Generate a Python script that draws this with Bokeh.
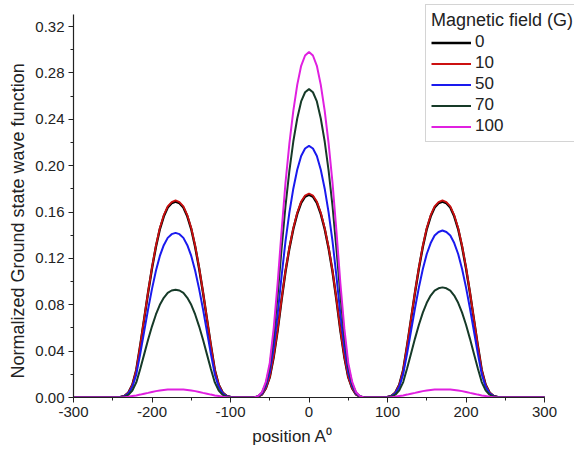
from bokeh.plotting import figure
from bokeh.models import Range1d, Legend, LegendItem, FixedTicker, NumeralTickFormatter, Title
from bokeh.embed import file_html
from bokeh.resources import INLINE

# positions (Angstrom)
positions = [-300,
             -245, -240, -235, -230, -225, -220, -215, -210, -205, -200, -195, -190, -185, -180, -175, -170,
             -165, -160, -155, -150, -145, -140, -135, -130, -125, -120, -115, -110, -105, -100, -95,
             -70, -65, -60, -55, -50, -45, -40, -35, -30, -25, -20, -15, -10, -5, 0,
             5, 10, 15, 20, 25, 30, 35, 40, 45, 50, 55, 60, 65, 70,
             95, 100, 105, 110, 115, 120, 125, 130, 135, 140, 145, 150, 155, 160, 165, 170,
             175, 180, 185, 190, 195, 200, 205, 210, 215, 220, 225, 230, 235, 240, 245,
             300]

field_labels = ["0", "10", "50", "70", "100"]

psi_0G = [0,
          0, 0.0005, 0.0014, 0.0042, 0.011, 0.0237, 0.0448, 0.0676, 0.0904, 0.1115, 0.1301, 0.1453, 0.1563, 0.1639, 0.1676, 0.169,
          0.1676, 0.1639, 0.1563, 0.1453, 0.1301, 0.1115, 0.0904, 0.0676, 0.0448, 0.0237, 0.011, 0.0042, 0.0014, 0.0005, 0,
          0, 0.0007, 0.0026, 0.0079, 0.0175, 0.035, 0.0578, 0.084, 0.1085, 0.1286, 0.1453, 0.1584, 0.168, 0.1733, 0.175,
          0.1733, 0.168, 0.1584, 0.1453, 0.1286, 0.1085, 0.084, 0.0578, 0.035, 0.0175, 0.0079, 0.0026, 0.0007, 0,
          0, 0.0005, 0.0014, 0.0042, 0.011, 0.0237, 0.0448, 0.0676, 0.0904, 0.1115, 0.1301, 0.1453, 0.1563, 0.1639, 0.1676, 0.169,
          0.1676, 0.1639, 0.1563, 0.1453, 0.1301, 0.1115, 0.0904, 0.0676, 0.0448, 0.0237, 0.011, 0.0042, 0.0014, 0.0005, 0,
          0]

psi_10G = [0,
           0, 0.0005, 0.0014, 0.0043, 0.0111, 0.0238, 0.0451, 0.068, 0.091, 0.1122, 0.1309, 0.1462, 0.1573, 0.1649, 0.1686, 0.170,
           0.1686, 0.1649, 0.1573, 0.1462, 0.1309, 0.1122, 0.091, 0.068, 0.0451, 0.0238, 0.0111, 0.0043, 0.0014, 0.0005, 0,
           0, 0.0007, 0.0026, 0.0079, 0.0176, 0.0352, 0.0581, 0.0845, 0.1091, 0.1294, 0.1461, 0.1593, 0.169, 0.1742, 0.176,
           0.1742, 0.169, 0.1593, 0.1461, 0.1294, 0.1091, 0.0845, 0.0581, 0.0352, 0.0176, 0.0079, 0.0026, 0.0007, 0,
           0, 0.0005, 0.0014, 0.0043, 0.0111, 0.0238, 0.0451, 0.068, 0.091, 0.1122, 0.1309, 0.1462, 0.1573, 0.1649, 0.1686, 0.170,
           0.1686, 0.1649, 0.1573, 0.1462, 0.1309, 0.1122, 0.091, 0.068, 0.0451, 0.0238, 0.0111, 0.0043, 0.0014, 0.0005, 0,
           0]

psi_50G = [0,
           0, 0.0004, 0.0011, 0.0036, 0.0092, 0.0199, 0.0376, 0.0568, 0.076, 0.0937, 0.1093, 0.1221, 0.1314, 0.1377, 0.1409, 0.142,
           0.1409, 0.1377, 0.1314, 0.1221, 0.1093, 0.0937, 0.076, 0.0568, 0.0376, 0.0199, 0.0092, 0.0036, 0.0011, 0.0004, 0,
           0, 0.0009, 0.0033, 0.0098, 0.0217, 0.0434, 0.0716, 0.1042, 0.1345, 0.1595, 0.1801, 0.1964, 0.2083, 0.2148, 0.217,
           0.2148, 0.2083, 0.1964, 0.1801, 0.1595, 0.1345, 0.1042, 0.0716, 0.0434, 0.0217, 0.0098, 0.0033, 0.0009, 0,
           0, 0.0004, 0.0012, 0.0036, 0.0094, 0.0202, 0.0382, 0.0576, 0.077, 0.095, 0.1109, 0.1238, 0.1332, 0.1397, 0.1428, 0.144,
           0.1428, 0.1397, 0.1332, 0.1238, 0.1109, 0.095, 0.077, 0.0576, 0.0382, 0.0202, 0.0094, 0.0036, 0.0012, 0.0004, 0,
           0]

psi_70G = [0,
           0, 0.0003, 0.0007, 0.0023, 0.006, 0.013, 0.0246, 0.0372, 0.0498, 0.0614, 0.0716, 0.08, 0.086, 0.0902, 0.0923, 0.093,
           0.0923, 0.0902, 0.086, 0.08, 0.0716, 0.0614, 0.0498, 0.0372, 0.0246, 0.013, 0.006, 0.0023, 0.0007, 0.0003, 0,
           0, 0.0011, 0.004, 0.012, 0.0266, 0.0532, 0.0878, 0.1277, 0.1649, 0.1955, 0.2208, 0.2407, 0.2554, 0.2633, 0.266,
           0.2633, 0.2554, 0.2407, 0.2208, 0.1955, 0.1649, 0.1277, 0.0878, 0.0532, 0.0266, 0.012, 0.004, 0.0011, 0,
           0, 0.0003, 0.0008, 0.0024, 0.0062, 0.0133, 0.0252, 0.038, 0.0508, 0.0627, 0.0732, 0.0817, 0.0879, 0.0922, 0.0942, 0.095,
           0.0942, 0.0922, 0.0879, 0.0817, 0.0732, 0.0627, 0.0508, 0.038, 0.0252, 0.0133, 0.0062, 0.0024, 0.0008, 0.0003, 0,
           0]

psi_100G = [0,
            0, 0.0, 0.0003, 0.0006, 0.0012, 0.0018, 0.0025, 0.0033, 0.004, 0.0048, 0.0055, 0.006, 0.0065, 0.0068, 0.007, 0.007,
            0.007, 0.0068, 0.0065, 0.006, 0.0055, 0.0048, 0.004, 0.0033, 0.0025, 0.0018, 0.0012, 0.0006, 0.0003, 0.0, 0,
            0, 0.0012, 0.0045, 0.0134, 0.0298, 0.0596, 0.0983, 0.143, 0.1848, 0.219, 0.2473, 0.2697, 0.2861, 0.295, 0.298,
            0.295, 0.2861, 0.2697, 0.2473, 0.219, 0.1848, 0.143, 0.0983, 0.0596, 0.0298, 0.0134, 0.0045, 0.0012, 0,
            0, 0.0, 0.0003, 0.0006, 0.0012, 0.0018, 0.0025, 0.0033, 0.004, 0.0048, 0.0055, 0.006, 0.0065, 0.0068, 0.007, 0.007,
            0.007, 0.0068, 0.0065, 0.006, 0.0055, 0.0048, 0.004, 0.0033, 0.0025, 0.0018, 0.0012, 0.0006, 0.0003, 0.0, 0,
            0]

x_ticks = [-300, -200, -100, 0, 100, 200, 300]
x_minor = [-250, -150, -50, 50, 150, 250]
y_ticks = [0.0, 0.04, 0.08, 0.12, 0.16, 0.20, 0.24, 0.28, 0.32]
y_minor = [0.02, 0.06, 0.10, 0.14, 0.18, 0.22, 0.26, 0.30]

x_title = "position A\u2070"
y_title = "Normalized Ground state wave function"
legend_title = "Magnetic field (G)"

series = [psi_0G, psi_10G, psi_50G, psi_70G, psi_100G]
colors = ["#000000", "#cc1010", "#1a1aee", "#163a28", "#e020e0"]
widths = [2.4, 1.8, 2.0, 2.0, 2.0]

FONT = "Liberation Sans"
TXT = "#222222"

# frame spans to the right/top edges so the legend (which sits partly
# outside the axes area in the reference) is not clipped; axes are bounded.
p = figure(width=574, height=455, output_backend="svg", toolbar_location=None,
           x_range=Range1d(-300, 338.2), y_range=Range1d(0, 0.339),
           min_border_left=73, min_border_right=0, min_border_top=4, min_border_bottom=58)
p.outline_line_color = None
p.grid.visible = False
p.background_fill_color = "white"
p.border_fill_color = "white"

p.xaxis.ticker = FixedTicker(ticks=x_ticks, minor_ticks=x_minor)
p.yaxis.ticker = FixedTicker(ticks=y_ticks, minor_ticks=y_minor)
p.xaxis.formatter = NumeralTickFormatter(format="0")
p.yaxis.formatter = NumeralTickFormatter(format="0.00")
p.xaxis.bounds = (-300, 300)
p.yaxis.bounds = (0, 0.33)

for ax in (p.xaxis[0], p.yaxis[0]):
    ax.axis_line_color = TXT
    ax.axis_line_width = 1.2
    ax.major_tick_line_color = TXT
    ax.minor_tick_line_color = TXT
    ax.major_tick_out = 5
    ax.major_tick_in = 0
    ax.minor_tick_out = 3
    ax.minor_tick_in = 0
    ax.major_label_text_font = FONT
    ax.major_label_text_font_size = "15px"
    ax.major_label_text_color = TXT
    ax.major_label_standoff = 4

p.add_layout(Title(text=x_title, align="left", offset=178.7, standoff=10,
                   text_font=FONT, text_font_size="17px", text_font_style="normal",
                   text_color=TXT), "below")
p.add_layout(Title(text=y_title, align="left", offset=19, standoff=9,
                   text_font=FONT, text_font_size="18px", text_font_style="normal",
                   text_color=TXT), "left")

items = []
for lab, ys, c, w in zip(field_labels, series, colors, widths):
    r = p.line(positions, ys, line_color=c, line_width=w)
    items.append(LegendItem(label=lab, renderers=[r]))

legend = Legend(items=items, location=(352, 255), title=legend_title)
legend.title_text_font = FONT
legend.title_text_font_size = "18px"
legend.title_text_font_style = "normal"
legend.title_text_color = TXT
legend.title_standoff = 1
legend.label_text_font = FONT
legend.label_text_font_size = "17px"
legend.label_text_color = TXT
legend.label_standoff = 4
legend.label_width = 100
legend.glyph_width = 40
legend.glyph_height = 17
legend.label_height = 17
legend.spacing = 1
legend.padding = 5
legend.margin = 0
legend.border_line_color = "#aaaaaa"
legend.border_line_width = 1.5
legend.background_fill_alpha = 1.0
p.add_layout(legend)

open("out.html", "w").write(file_html(p, INLINE))
